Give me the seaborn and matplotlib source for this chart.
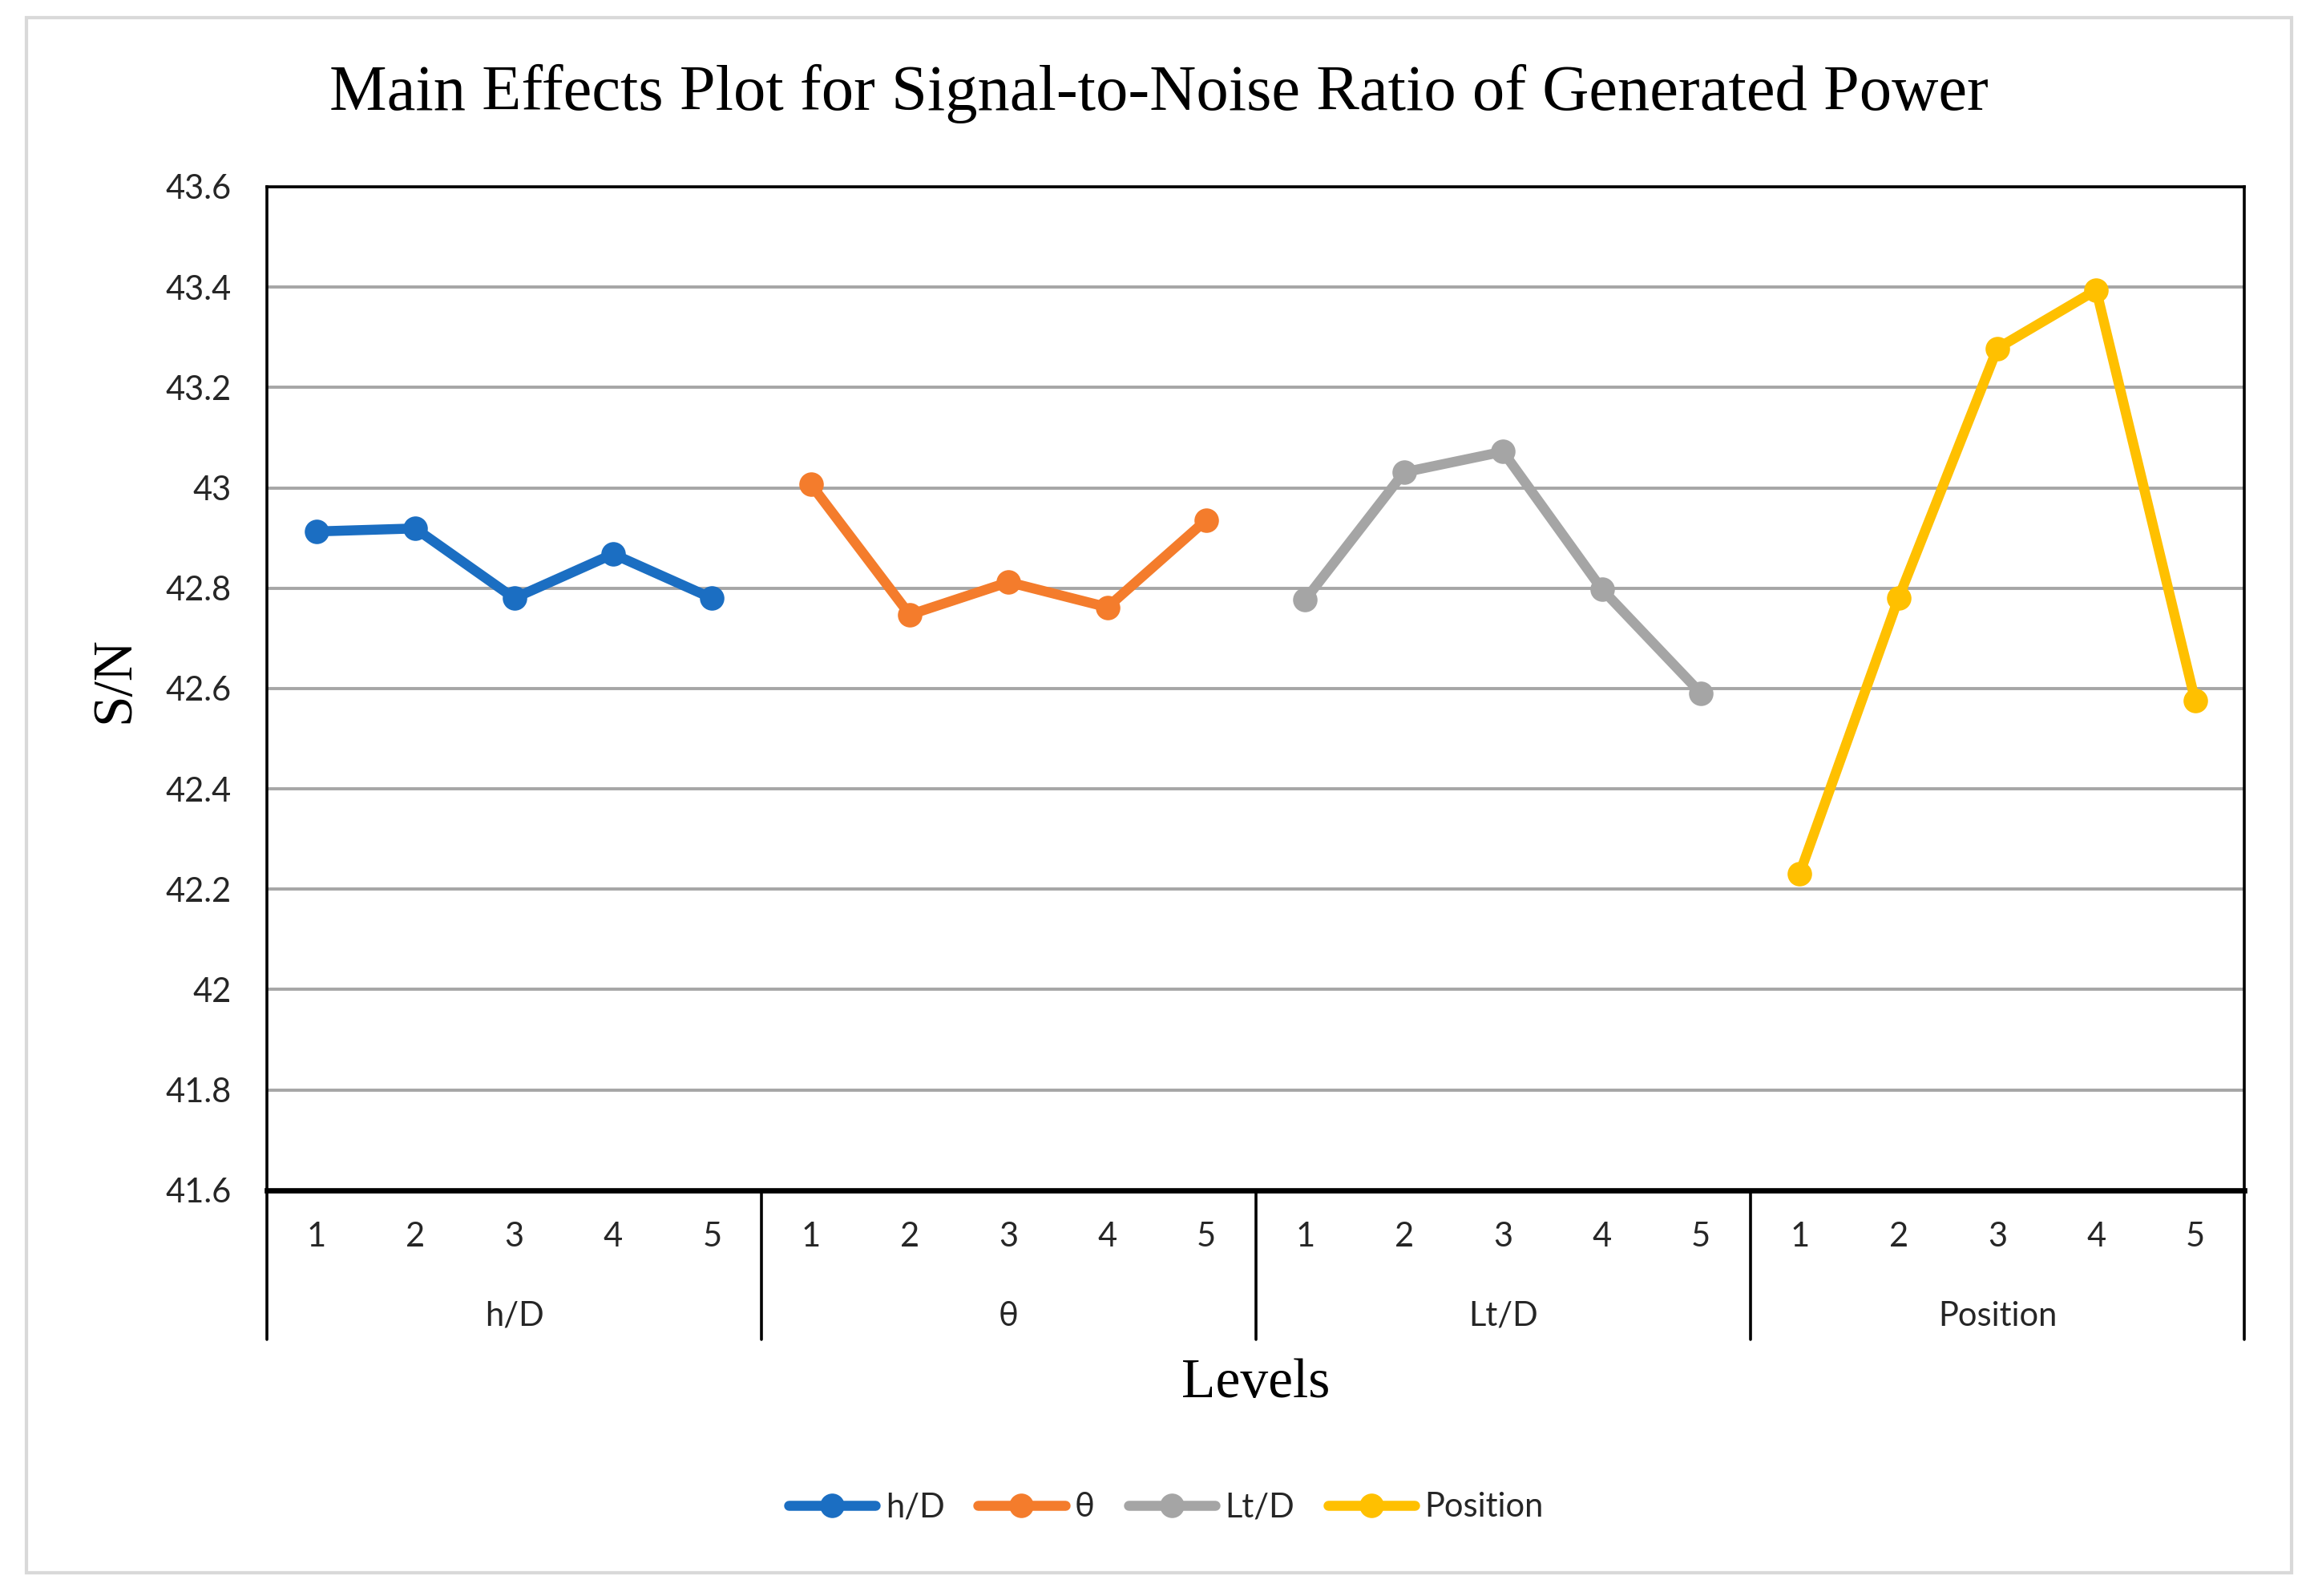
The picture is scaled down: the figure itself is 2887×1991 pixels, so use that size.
import numpy as np
import pandas as pd
import matplotlib
matplotlib.use("Agg")
import matplotlib.pyplot as plt
from matplotlib.lines import Line2D
from matplotlib.patches import Rectangle
import seaborn as sns

# ======================================
# DATA
# ======================================
factors = ["h/D", "θ", "Lt/D", "Position"]
levels = [1, 2, 3, 4, 5]
sn_hd = [42.913, 42.919, 42.780, 42.868, 42.780]
sn_theta = [43.007, 42.747, 42.812, 42.762, 42.936]
sn_ltd = [42.777, 43.031, 43.072, 42.798, 42.591]
sn_position = [42.231, 42.780, 43.278, 43.394, 42.576]
y_ticks = [41.6, 41.8, 42.0, 42.2, 42.4, 42.6, 42.8, 43.0, 43.2, 43.4, 43.6]

colors = ["#1b6ec2", "#f47c2c", "#a5a5a5", "#ffc000"]

# long-form table for seaborn
rows = []
for gi, (name, vals) in enumerate(zip(factors, [sn_hd, sn_theta, sn_ltd, sn_position])):
    for li, (lev, v) in enumerate(zip(levels, vals)):
        rows.append({"factor": name, "level": lev, "pos": gi * len(levels) + li, "SN": v})
df = pd.DataFrame(rows)

# ======================================
# STYLE
# ======================================
sns.set_style("white")
SANS = ["Lato", "DejaVu Sans"]
SERIF = ["Liberation Serif", "DejaVu Serif"]
plt.rcParams["font.family"] = SANS
plt.rcParams["text.color"] = "#262626"
plt.rcParams["xtick.color"] = "#262626"
plt.rcParams["ytick.color"] = "#262626"

fig = plt.figure(figsize=(14.435, 9.955), dpi=200)
ax = fig.add_axes([0.1154, 0.2542, 0.8546, 0.6288])

# outer light-gray frame around the whole chart
fig.patches.append(Rectangle((0.0115, 0.0148), 0.9789, 0.9741, transform=fig.transFigure,
                             fill=False, edgecolor="#d9d9d9", linewidth=1.5))

sns.lineplot(data=df, x="pos", y="SN", hue="factor", hue_order=factors, palette=colors,
             marker="o", markersize=11, markeredgewidth=0, linewidth=4.5, ax=ax)

# ======================================
# AXES
# ======================================
n_total = len(factors) * len(levels)
ax.set_xlim(-0.5, n_total - 0.5)
ax.set_ylim(41.6, 43.6)
ax.set_yticks(y_ticks)
ax.set_yticklabels([f"{round(v, 1):g}" for v in y_ticks])
ax.yaxis.grid(True, color="#a6a6a6", linewidth=1.4)
ax.set_axisbelow(True)

ax.set_xticks(range(n_total))
ax.set_xticklabels([str(l) for _ in factors for l in levels])
ax.tick_params(axis="x", length=0, pad=14, labelsize=15)
ax.tick_params(axis="y", length=0, pad=16, labelsize=15)

for side in ["left", "right", "top"]:
    ax.spines[side].set_color("black")
    ax.spines[side].set_linewidth(1.3)
ax.spines["bottom"].set_color("black")
ax.spines["bottom"].set_linewidth(2.4)

# group separators and group labels below the axis
trans = ax.get_xaxis_transform()
for gi in range(len(factors) + 1):
    xs = gi * len(levels) - 0.5
    ax.add_line(Line2D([xs, xs], [0, -0.149], transform=trans, color="black",
                       linewidth=1.3, clip_on=False))
for gi, name in enumerate(factors):
    xc = gi * len(levels) + (len(levels) - 1) / 2
    ax.text(xc, -0.1254, name, transform=trans, ha="center", va="center",
            fontsize=15, family=SANS)

ax.set_xlabel("")
ax.set_ylabel("")
ax.text(0.5, -0.193, "Levels", transform=ax.transAxes, ha="center", va="center",
        fontsize=25, family=SERIF, color="black")
fig.text(0.0497, 0.574, "S/N", rotation=90, ha="center", va="center",
         fontsize=25, family=SERIF, color="black")
fig.text(0.501, 0.9415, "Main Effects Plot for Signal-to-Noise Ratio of Generated Power",
         ha="center", va="center", fontsize=29, family=SERIF, color="black")

# ======================================
# LEGEND
# ======================================
handles, labels = ax.get_legend_handles_labels()
ax.legend(handles, labels, loc="center", bbox_to_anchor=(0.504, 0.0557),
          bbox_transform=fig.transFigure, ncol=4, frameon=False, fontsize=15,
          handlelength=2.6, handletextpad=0.3, columnspacing=1.0)

fig.savefig("out.png", dpi=200, facecolor="white")
plt.close()
